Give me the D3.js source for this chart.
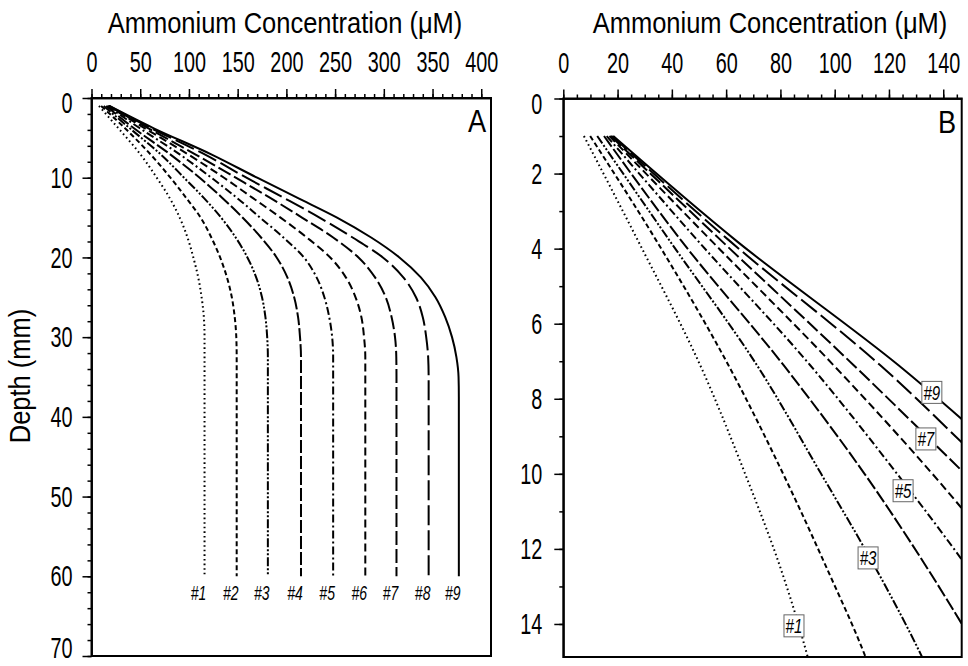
<!DOCTYPE html>
<html lang="en">
<head>
  <meta charset="UTF-8">
  <title>Ammonium Concentration vs Depth</title>
  <script src="https://d3js.org/d3.v7.min.js"></script>
  <style>
    body { margin: 0; background: #fff; }
    svg { display: block; font-family: "Liberation Sans", Arial, sans-serif; }
    .tick line, .domain { stroke: #000; stroke-width: 1.5px; }
    .tick text { font-size: 30px; fill: #000; }
  </style>
</head>
<body>
  <svg width="968" height="666"></svg>
  <script>
    // depth (mm) grid shared by all model runs
    const depths = [1, 3.8, 7.1, 10, 12.5, 15, 17.5, 20, 22.5, 25, 27.5, 30, 32.5, 35, 37.5, 40, 60];
    // ammonium concentration (uM) for runs #1..#9
    const curve1 = [7.6, 27.6, 50.4, 67, 80, 90.5, 98.5, 104.5, 109.5, 113, 115.3, 116, 116, 116, 116, 116, 116];
    const curve2 = [9.9, 34.4, 60.8, 81, 97, 112, 123, 132, 139, 144, 147, 148.6, 149, 149, 149, 149, 149];
    const curve3 = [12.5, 39.3, 71.3, 95, 115, 133, 148, 160, 169, 175, 178.5, 180.3, 181, 181, 181, 181, 181];
    const curve4 = [15, 43.6, 81.1, 111, 134, 155, 174, 190, 201, 208, 212, 214, 215, 215, 215, 215, 215];
    const curve5 = [16, 49.7, 90.9, 123, 149, 173, 197, 218, 231, 239, 244, 247, 248, 248, 248, 248, 248];
    const curve6 = [17, 54.7, 99.5, 136, 165, 194, 221, 245, 261, 271, 277, 279.7, 281, 281, 281, 281, 281];
    const curve7 = [17.5, 58.4, 106.9, 148, 183, 216, 248, 274, 291, 302, 308, 311.5, 312.8, 313, 313, 313, 313];
    const curve8 = [18, 61.4, 116.7, 159, 197, 234, 268, 299, 320, 333, 340, 343.5, 345.5, 346, 346, 346, 346];
    const curve9 = [18.4, 63.9, 123.4, 170, 211, 252, 287, 316, 338, 353, 363, 370, 374.5, 376.7, 377, 377, 377];
    const runNames = ["#1", "#2", "#3", "#4", "#5", "#6", "#7", "#8", "#9"];

    // tick values
    const ticksXA = [0, 50, 100, 150, 200, 250, 300, 350, 400];
    const ticksXB = [0, 20, 40, 60, 80, 100, 120, 140];
    const ticksYA = [0, 10, 20, 30, 40, 50, 60, 70];
    const ticksYB = [0, 2, 4, 6, 8, 10, 12, 14];

    // boxed labels in panel B (name, concentration, depth)
    const boxNames = ["#9", "#7", "#5", "#3", "#1"];
    const boxConc = [135.8, 133.6, 125.2, 112.3, 85];
    const boxDepth = [7.83, 9.07, 10.45, 12.24, 14.05];

    const runs = [curve1, curve2, curve3, curve4, curve5, curve6, curve7, curve8, curve9]
      .map((c, i) => ({ name: runNames[i], pts: c.map((v, j) => ({ c: v, d: depths[j] })) }));

    const dashes = ["1.6,3", "5,3", "9,2,2,2,2,2", "13,3", "8,3,2,3", "8,4", "14,4", "20,5", null];

    const svg = d3.select("svg");
    const digitScale = 0.66;   // condensed look for tick digits
    const textScale = 0.85;    // condensed look for titles

    // scales
    const xA = d3.scaleLinear().domain([0, 410]).range([91.5, 491]);
    const yA = d3.scaleLinear().domain([0, 70]).range([98, 656]);
    const xB = d3.scaleLinear().domain([0, 146.8]).range([563.3, 961.7]);
    const yB = d3.scaleLinear().domain([0, 14.88]).range([98.5, 657]);

    function range(a, b, s) { return d3.range(a, b + s / 2, s); }

    function drawAxes(x, y, majX, minX, majY, minY, padY, lastShift) {
      const top = y.range()[0];
      const left = x.range()[0];
      const g = svg.append("g");
      g.append("g").attr("transform", `translate(0,${top})`)
        .call(d3.axisTop(x).tickValues(minX).tickSize(4).tickFormat("").tickSizeOuter(0));
      const gx = g.append("g").attr("transform", `translate(0,${top})`)
        .call(d3.axisTop(x).tickValues(majX).tickSize(9).tickPadding(17).tickSizeOuter(0));
      g.append("g").attr("transform", `translate(${left},0)`)
        .call(d3.axisLeft(y).tickValues(minY).tickSize(4).tickFormat("").tickSizeOuter(0));
      const gy = g.append("g").attr("transform", `translate(${left},0)`)
        .call(d3.axisLeft(y).tickValues(majY).tickSize(9).tickPadding(padY).tickSizeOuter(0));
      g.selectAll("g").attr("font-family", null).attr("font-size", null);
      gx.selectAll(".tick text").attr("transform", `scale(${digitScale},1)`);
      const lastY = majY[majY.length - 1];
      gy.selectAll(".tick text")
        .attr("transform", `scale(${digitScale},1)`)
        .attr("x", -(9 + padY) / digitScale)
        .attr("dy", d => d === 0 ? "14.5px" : (d === lastY ? (9.6 + lastShift) + "px" : "9.6px"));
      // frame
      g.append("rect")
        .attr("x", x.range()[0]).attr("y", y.range()[0])
        .attr("width", x.range()[1] - x.range()[0])
        .attr("height", y.range()[1] - y.range()[0])
        .attr("fill", "none").attr("stroke", "#000").attr("stroke-width", 2);
    }

    function title(cx) {
      svg.append("text").attr("transform", `translate(${cx},33) scale(${textScale},1)`)
        .attr("text-anchor", "middle").attr("font-size", 30)
        .text("Ammonium Concentration (\u03bcM)");
    }

    // ---- panel A ----
    drawAxes(xA, yA, ticksXA, range(0, 400, 10), ticksYA, range(0, 70, 2), 10, -8);
    title(285);

    const lineA = d3.line().x(p => xA(p.c)).y(p => yA(p.d)).curve(d3.curveMonotoneY);
    svg.append("g").selectAll("path").data(runs).join("path")
      .attr("d", r => lineA(r.pts))
      .attr("fill", "none").attr("stroke", "#000").attr("stroke-width", 2)
      .attr("stroke-dasharray", (r, i) => dashes[i]);

    svg.append("g").selectAll("text").data(runs).join("text")
      .attr("transform", r => `translate(${xA(r.pts[r.pts.length - 1].c) - 6},${yA(60) + 24}) scale(0.7,1)`)
      .attr("text-anchor", "middle").attr("font-size", 20).attr("font-style", "italic")
      .text(r => r.name);

    svg.append("text").attr("transform", `translate(477,132) scale(${textScale},1)`)
      .attr("text-anchor", "middle").attr("font-size", 32).text("A");

    svg.append("text")
      .attr("transform", `translate(30,376) rotate(-90) scale(${textScale},1)`)
      .attr("text-anchor", "middle").attr("font-size", 30)
      .text("Depth (mm)");

    // ---- panel B ----
    drawAxes(xB, yB, ticksXB, range(0, 145, 5), ticksYB, range(0, 14, 1), 12, 0);
    title(770);

    svg.append("clipPath").attr("id", "clipB").append("rect")
      .attr("x", xB.range()[0]).attr("y", yB.range()[0])
      .attr("width", xB.range()[1] - xB.range()[0])
      .attr("height", yB.range()[1] - yB.range()[0]);

    const lineB = d3.line().x(p => xB(p.c)).y(p => yB(p.d)).curve(d3.curveMonotoneY);
    svg.append("g").attr("clip-path", "url(#clipB)")
      .selectAll("path").data(runs).join("path")
      .attr("d", r => lineB(r.pts))
      .attr("fill", "none").attr("stroke", "#000").attr("stroke-width", 2)
      .attr("stroke-dasharray", (r, i) => dashes[i]);

    const boxes = svg.append("g").selectAll("g").data(boxNames).join("g")
      .attr("transform", (d, i) => `translate(${xB(boxConc[i])},${yB(boxDepth[i])})`);
    boxes.append("rect").attr("x", -10).attr("y", -11).attr("width", 20).attr("height", 22)
      .attr("fill", "#fff").attr("stroke", "#666").attr("stroke-width", 1);
    boxes.append("text").attr("transform", "translate(0,7.5) scale(0.72,1)")
      .attr("text-anchor", "middle")
      .attr("font-size", 21).attr("font-style", "italic")
      .text(d => d);

    svg.append("text").attr("transform", `translate(947,133) scale(${textScale},1)`)
      .attr("text-anchor", "middle").attr("font-size", 32).text("B");
  </script>
</body>
</html>
